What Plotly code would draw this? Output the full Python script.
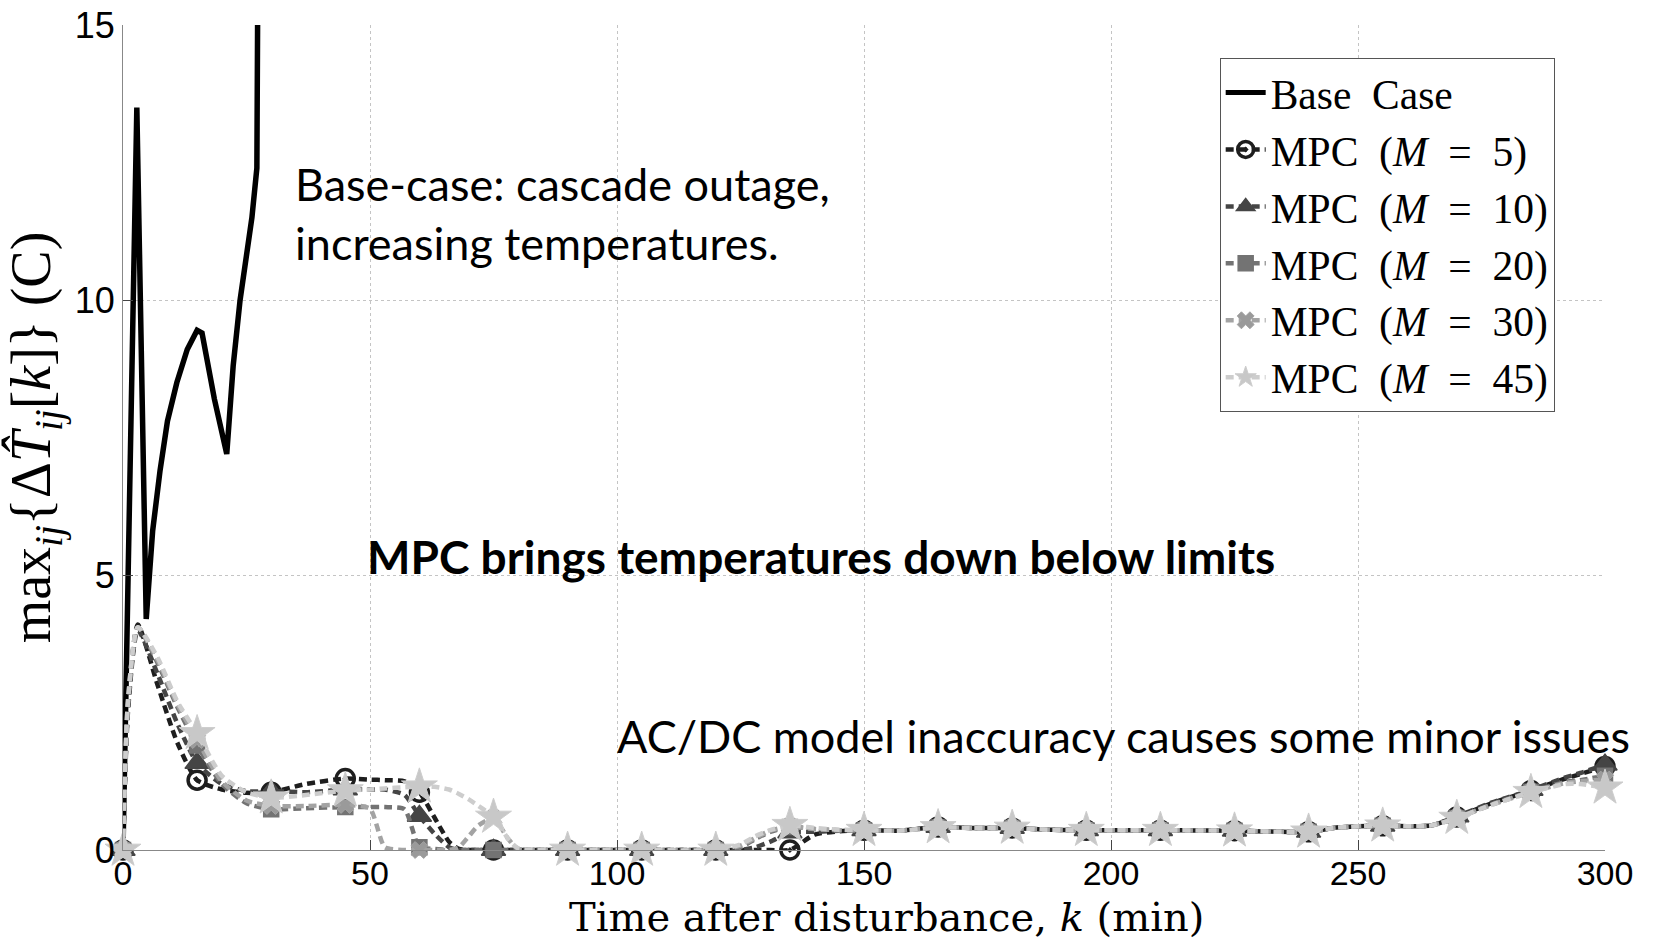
import plotly.graph_objects as go

# ---------------- data ----------------
base_t = [0, 1.4, 2.8, 4.7, 6.0, 7.5, 9.0, 10.9, 13.0, 15.0, 16.0, 18.5, 21.0, 22.3, 23.7, 26.1, 27.1, 27.3]
base_T = [0, 6.75, 13.5, 4.2, 5.8, 6.9, 7.8, 8.5, 9.1, 9.45, 9.4, 8.2, 7.2, 8.8, 10.0, 11.5, 12.4, 16.0]

mpc_t = [0, 1, 3, 7, 11, 15, 20, 25, 30, 37, 45, 50, 53, 57, 60, 63, 66, 68, 70, 72,
         75, 78, 80, 90, 105, 120, 125, 128, 131, 135, 140, 145, 150, 157, 165, 172, 180, 187,
         195, 210, 225, 240, 245, 250, 255, 262, 265, 270, 277, 285, 292, 295, 300]

mpc_M5 = [0, 2.6, 4.1, 3.0, 1.95, 1.27, 1.1, 1.04, 1.05, 1.2, 1.3, 1.28, 1.27, 1.25, 1.05,
          0.6, 0.15, 0.02, 0, 0, 0, 0, 0, 0, 0, 0, 0, 0, 0, 0, 0.28, 0.34, 0.36, 0.35, 0.42,
          0.40, 0.40, 0.37, 0.36, 0.36, 0.35, 0.33, 0.40, 0.43, 0.44, 0.43, 0.45, 0.60, 0.85,
          1.08, 1.30, 1.38, 1.52]
mpc_M10 = [0, 2.5, 4.0, 3.2, 2.3, 1.58, 1.2, 1.07, 1.07, 1.05, 1.1, 1.1, 1.1, 1.0, 0.62,
           0.3, 0.05, 0, 0, 0, 0, 0, 0, 0, 0, 0, 0, 0.05, 0.15, 0.32, 0.33, 0.35, 0.36, 0.35,
           0.42, 0.40, 0.40, 0.37, 0.36, 0.36, 0.35, 0.33, 0.40, 0.43, 0.44, 0.43, 0.45, 0.61,
           0.86, 1.09, 1.32, 1.40, 1.55]
mpc_M20 = [0, 2.6, 4.05, 3.4, 2.6, 1.9, 1.2, 0.85, 0.74, 0.76, 0.78, 0.78, 0.78, 0.74, 0.05,
           0.02, 0, 0, 0, 0, 0, 0, 0, 0, 0, 0, 0.05, 0.2, 0.33, 0.42, 0.38, 0.36, 0.36, 0.35,
           0.41, 0.40, 0.40, 0.37, 0.36, 0.36, 0.35, 0.33, 0.40, 0.43, 0.44, 0.43, 0.45, 0.58,
           0.83, 1.06, 1.24, 1.27, 1.35]
mpc_M30 = [0, 2.7, 4.05, 3.45, 2.65, 2.0, 1.25, 0.9, 0.8, 0.8, 0.82, 0.75, 0.05, 0, 0,
           0, 0, 0.05, 0.25, 0.45, 0.58, 0.2, 0.02, 0, 0, 0, 0.08, 0.22, 0.35, 0.43, 0.38,
           0.36, 0.36, 0.35, 0.41, 0.40, 0.40, 0.37, 0.36, 0.36, 0.35, 0.33, 0.40, 0.43, 0.44,
           0.43, 0.45, 0.58, 0.82, 1.05, 1.22, 1.25, 1.28]
mpc_M45 = [0, 2.7, 4.05, 3.5, 2.7, 2.12, 1.35, 1.05, 0.95, 1.0, 1.08, 1.1, 1.12, 1.14, 1.15,
           1.15, 1.1, 1.02, 0.92, 0.8, 0.6, 0.2, 0.03, 0, 0, 0, 0.1, 0.25, 0.36, 0.45, 0.40,
           0.37, 0.36, 0.35, 0.41, 0.40, 0.40, 0.37, 0.36, 0.36, 0.35, 0.33, 0.40, 0.43, 0.44,
           0.43, 0.45, 0.58, 0.82, 1.05, 1.2, 1.2, 1.13]

marker_every = 15
sp = "\u2002"
series_names = [f"MPC{sp}(<i>M</i>{sp}={sp}5)", f"MPC{sp}(<i>M</i>{sp}={sp}10)",
                f"MPC{sp}(<i>M</i>{sp}={sp}20)", f"MPC{sp}(<i>M</i>{sp}={sp}30)",
                f"MPC{sp}(<i>M</i>{sp}={sp}45)"]
x_ticks = [0, 50, 100, 150, 200, 250, 300]
y_ticks = [0, 5, 10, 15]

# ---------------- styles ----------------
styles = [
    dict(line="#1e1e1e", fill="#1e1e1e", symbol="circle-open-dot", size=18, lw=3.5),
    dict(line="#454545", fill="#454545", symbol="triangle-up", size=21, lw=1.5),
    dict(line="#737373", fill="#737373", symbol="square", size=15, lw=1.5),
    dict(line="#a3a3a3", fill="#9a9a9a", symbol="x", size=15, lw=1),
    dict(line="#cdcdcd", fill="#c8c8c8", symbol="star", size=27, lw=1),
]
series_vals = [mpc_M5, mpc_M10, mpc_M20, mpc_M30, mpc_M45]
dash = "8px,5px"

fig = go.Figure()

fig.add_trace(go.Scatter(x=base_t, y=base_T, mode="lines",
                         line=dict(color="black", width=5.5),
                         showlegend=False, hoverinfo="skip"))

for name, vals, st in zip(series_names, series_vals, styles):
    fig.add_trace(go.Scatter(x=mpc_t, y=vals, mode="lines",
                             line=dict(color=st["line"], width=4.5, dash=dash,
                                       shape="spline", smoothing=0.6),
                             showlegend=False))
    mx = [t for t in mpc_t if t % marker_every == 0]
    my = [v for t, v in zip(mpc_t, vals) if t % marker_every == 0]
    fig.add_trace(go.Scatter(x=mx, y=my, mode="markers", cliponaxis=False,
                             marker=dict(symbol=st["symbol"], size=st["size"], color=st["fill"],
                                         line=dict(color=st["line"], width=st["lw"])),
                             showlegend=False))

fig.add_trace(go.Scatter(x=[None], y=[None], mode="lines", name="Base" + sp + "Case",
                         line=dict(color="black", width=5)))
for name, st in zip(series_names, styles):
    fig.add_trace(go.Scatter(x=[None], y=[None], mode="lines+markers", name=name,
                             line=dict(color=st["line"], width=4.5, dash=dash),
                             marker=dict(symbol=st["symbol"], size=st["size"], color=st["fill"],
                                         line=dict(color=st["line"], width=st["lw"]))))

grid = dict(showgrid=True, gridcolor="#c4c4c4", griddash="dot", gridwidth=1)
fig.update_xaxes(range=[0, 300], tickvals=x_ticks, ticks="inside", ticklen=10,
                 tickcolor="#444", showline=True, linecolor="#888", linewidth=1,
                 zeroline=False, automargin=False, ticklabelstandoff=-7,
                 tickfont=dict(family="Liberation Sans", size=34, color="black"),
                 **grid)
fig.update_yaxes(range=[0, 15], tickvals=y_ticks, ticks="inside", ticklen=10,
                 tickcolor="#444", showline=True, linecolor="#888", linewidth=1,
                 zeroline=False, automargin=False,
                 tickfont=dict(family="Liberation Sans", size=36, color="black"),
                 title=dict(text="max<sub><i>ij</i></sub>{Δ<i>T\u0302</i><sub><i>ij</i></sub>[<i>k</i>]} (C)",
                            font=dict(family="Liberation Serif", size=56, color="black"),
                            standoff=6),
                 **grid)

# x-axis title
fig.add_annotation(x=0.5155, y=-0.0815, xref="paper", yref="paper",
                   xanchor="center", yanchor="middle", showarrow=False,
                   font=dict(family="DejaVu Serif", size=40, color="black"),
                   text="Time after disturbance, <i>k</i> (min)")

ann_font = dict(family="Lato", size=45, color="black")
fig.add_annotation(x=34.4, y=11.58, xref="x", yref="y", xanchor="left", yanchor="middle",
                   align="left", showarrow=False, font=ann_font,
                   text="Base-case: cascade outage,<br>increasing temperatures.")
fig.add_annotation(x=49.0, y=5.33, xref="x", yref="y", xanchor="left", yanchor="middle",
                   showarrow=False, font=dict(family="Lato", size=46, color="black"),
                   text="<b>MPC brings temperatures down below limits</b>")
fig.add_annotation(x=99.6, y=2.07, xref="x", yref="y", xanchor="left", yanchor="middle",
                   showarrow=False, font=ann_font,
                   text="AC/DC model inaccuracy causes some minor issues")

fig.update_layout(
    width=1655, height=941,
    margin=dict(l=123, r=50, t=25, b=91, pad=0),
    plot_bgcolor="white", paper_bgcolor="white",
    legend=dict(x=0.74, y=0.96, xanchor="left", yanchor="top",
                bordercolor="#555", borderwidth=1, bgcolor="white",
                font=dict(family="Liberation Serif", size=41.5, color="black"),
                itemwidth=40, tracegroupgap=0),
)

fig.write_html("out.html", config={"displayModeBar": False},
               post_script="document.body.style.margin='0';")
